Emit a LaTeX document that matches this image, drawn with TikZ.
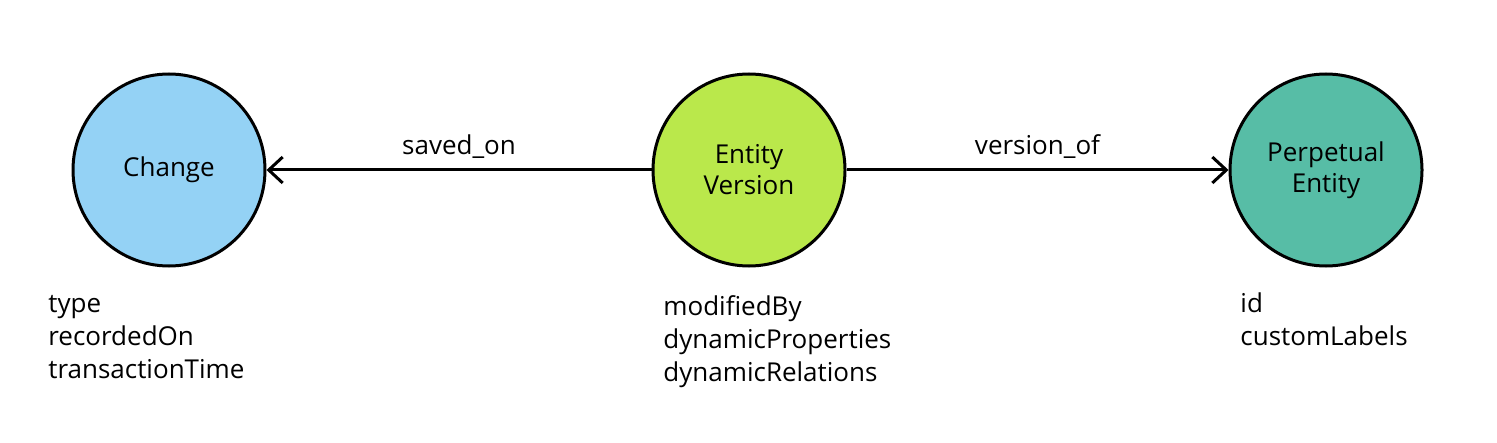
\documentclass[tikz,border=0pt]{standalone}
\usepackage{fontspec}
\setmainfont{Open Sans}
\usepackage{tikz}
\usetikzlibrary{positioning}
\usetikzlibrary{calc,arrows.meta}

\definecolor{changeblue}{RGB}{148,210,245}
\definecolor{versiongreen}{RGB}{186,232,75}
\definecolor{entityteal}{RGB}{87,189,166}

\begin{document}
\begin{tikzpicture}
[   x=0.5pt,y=-0.5pt,
    cnode/.style={draw=black,line width=1.5pt,fill=#1,minimum size=96pt,circle,align=center,font=\fontsize{13}{15.5}\selectfont},
    attr/.style={anchor=north west,inner sep=0pt,align=left,font=\fontsize{13}{16.5}\selectfont},
]
\tikzset{normal arrow/.style={draw,line width=1.5pt,-{Straight Barb[length=7pt,width=13pt,line width=1.5pt]}}}
\useasboundingbox (0,0) rectangle (1497,443);
\node[cnode=changeblue] (change) at (169,170) {Change};
\node[cnode=versiongreen] (version) at (749,170) {Entity\\Version};
\node[cnode=entityteal] (perpetual) at (1326,170) {Perpetual\\Entity};

\node[attr] (change-attr) at (48,295) {type\\recordedOn\\transactionTime};
\node[attr] (version-attr) at (663,295) {modifiedBy\\dynamicProperties\\dynamicRelations};
\node[attr] (perpetual-attr) at (1240,292) {id\\customLabels};

\path[normal arrow] (version) -- node[above,font=\fontsize{13}{15.5}\selectfont,inner sep=5pt] {saved\_on} (change);
\path[normal arrow] (version) -- node[above,font=\fontsize{13}{15.5}\selectfont,inner sep=5pt] {version\_of} (perpetual);
\end{tikzpicture}
\end{document}
